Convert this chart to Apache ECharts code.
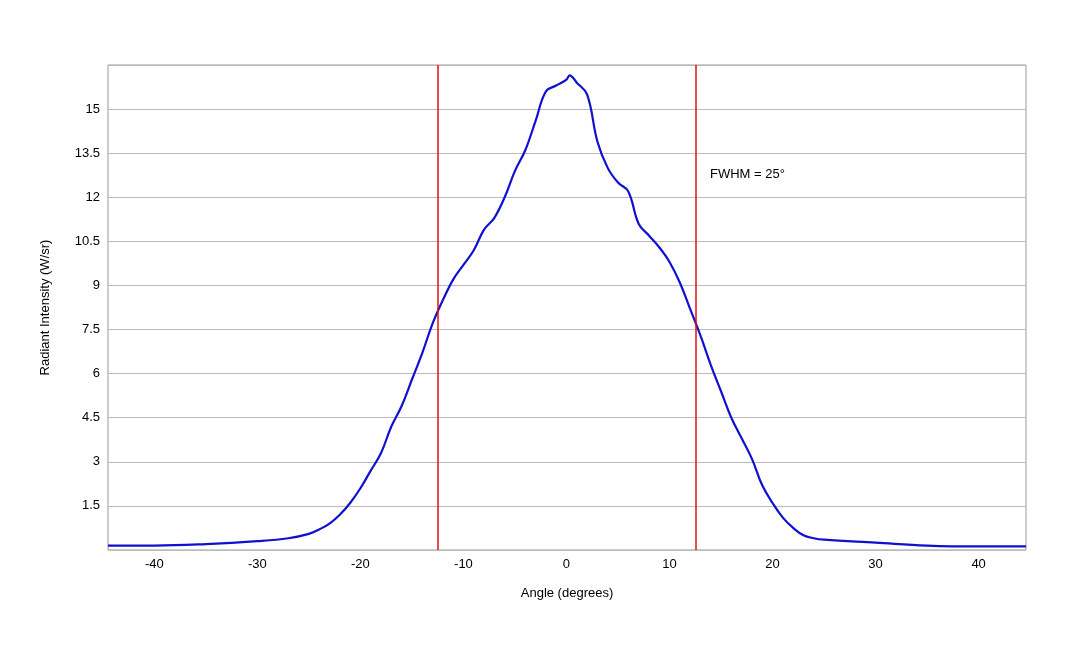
<!DOCTYPE html>
<html><head><meta charset="utf-8">
<script src="https://cdn.jsdelivr.net/npm/echarts@6/dist/echarts.min.js"></script>
<style>html,body{margin:0;background:#fff}#c{width:1080px;height:648px}</style>
</head><body><div id="c"></div>
<script>
const angles = [-44.5,-40,-35,-30,-27,-25,-24,-23,-22,-21,-20,-19,-18,-17,-16,-15,-14,-13,-12,-11,-10,-9,-8,-7,-6,-5,-4,-3,-2,-1,0,0.3,1,2,3,4,5,6,7,8,9,10,11,12,13,14,15,16,17,18,19,20,21,22,23,24,25,30,35,40,44.6];
const intensity = [0.15,0.15,0.2,0.3,0.4,0.55,0.7,0.9,1.2,1.6,2.1,2.7,3.3,4.2,4.9,5.8,6.7,7.7,8.5,9.2,9.7,10.2,10.9,11.3,12.0,12.9,13.6,14.6,15.6,15.8,16.0,16.15,15.9,15.5,13.9,13.0,12.5,12.2,11.1,10.7,10.3,9.8,9.1,8.2,7.3,6.3,5.4,4.5,3.8,3.1,2.2,1.6,1.1,0.75,0.5,0.4,0.35,0.25,0.15,0.12,0.12];
const fwhmLines = [-12.5, 12.5];
const yTicks = [1.5,3,4.5,6,7.5,9,10.5,12,13.5,15];
const chart = echarts.init(document.getElementById('c'));
chart.setOption({
  animation:false,
  textStyle:{fontFamily:'Liberation Sans, Arial'},
  grid:{left:108,right:54,top:65,bottom:98,show:true,borderColor:'#999',borderWidth:1},
  xAxis:{type:'value',min:-44.5,max:44.6,interval:10,
    name:'Angle (degrees)',nameLocation:'middle',nameGap:37,nameTextStyle:{fontSize:13,color:'#000'},
    axisLabel:{color:'#000',fontSize:13,customValues:[-40,-30,-20,-10,0,10,20,30,40]},
    axisTick:{show:false},axisLine:{show:false},splitLine:{show:false}},
  yAxis:{type:'value',min:0,max:16.5,interval:1.5,
    name:'Radiant Intensity (W/sr)',nameLocation:'middle',nameGap:56,nameTextStyle:{fontSize:13,color:'#000'},
    axisLabel:{color:'#000',fontSize:13,formatter:v=>yTicks.includes(+v.toFixed(1))?String(+v.toFixed(1)):''},
    axisTick:{show:false},axisLine:{show:false},splitLine:{lineStyle:{color:'#bbb'}}},
  series:[{type:'line',smooth:0.4,showSymbol:false,data:angles.map((a,i)=>[a,intensity[i]]),
    lineStyle:{color:'#1010d0',width:2.2},
    markLine:{silent:true,symbol:'none',label:{show:false},lineStyle:{color:'#e01010',width:1.5,type:'solid'},
      data:fwhmLines.map(x=>({xAxis:x}))}}],
  graphic:[{type:'text',left:710,top:168,style:{text:'FWHM = 25°',fontSize:13,fill:'#000',fontFamily:'Liberation Sans, Arial'}}]
});
</script></body></html>
